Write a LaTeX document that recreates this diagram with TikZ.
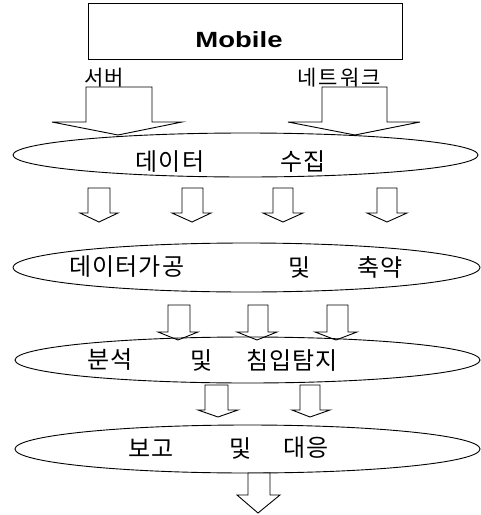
\documentclass[tikz,border=0pt]{standalone}
\usepackage{fontspec}
\setmainfont{Liberation Sans}
\newfontfamily\krsp[LetterSpace=4]{Noto Sans CJK KR}
\newfontfamily\krlab[LetterSpace=0]{Noto Sans CJK KR}
\newfontfamily\krlabw[LetterSpace=10]{Noto Sans CJK KR}
\newfontfamily\mob[FakeStretch=1.25]{Liberation Sans}
\usetikzlibrary{shapes.geometric}
\newcommand\blkarrow[8]{\draw[blk] (#1,#3) -- (#1,#4) -- (#5,#4) -- (#7,#8) -- (#6,#4) -- (#2,#4) -- (#2,#3) -- cycle;}
\tikzset{
  blk/.style={draw=black, line width=0.9pt, fill=white, line join=miter},
  oval/.style={draw=black, line width=0.9pt, ellipse, inner sep=0pt},
  word/.style={inner sep=0pt, font=\krsp\fontsize{24}{24}\selectfont},
  lab/.style={inner sep=0pt, font=\krlab\fontsize{21}{21}\selectfont},
}
\begin{document}
\begin{tikzpicture}[x=1pt,y=-1pt]
\useasboundingbox (0,0) rectangle (481,515);
% Mobile box
\node[draw=black, line width=0.9pt, minimum width=314pt, minimum height=56pt, inner sep=0pt] (mobilebox) at (245,31) {};
\node[inner sep=0pt, font=\mob\bfseries\fontsize{22}{22}\selectfont] (mobile) at (239,40) {Mobile};
\node[lab] (server) at (104,78) {서버};
\node[lab, font=\krlabw\fontsize{21}{21}\selectfont] (network) at (339,78) {네트워크};
% big arrows
\blkarrow{86}{152}{87}{122}{52}{182}{118}{135}
\blkarrow{322}{387}{87}{122}{288}{420}{355}{135}
% ellipse 1
\node[oval, minimum width=465pt, minimum height=44pt] (e1) at (245.5,155) {};
\node[word] (w11) at (170,162) {데이터};
\node[word] (w12) at (303,162) {수집};
% row 1 arrows
\blkarrow{88}{110}{188}{213}{80}{118}{99}{222}
\blkarrow{182}{203}{188}{213}{172}{211}{192}{222}
\blkarrow{273}{293}{188}{213}{263}{303}{283}{222}
\blkarrow{377}{397}{188}{213}{367}{407}{387}{222}
% ellipse 2
\node[oval, minimum width=467pt, minimum height=49pt] (e2) at (246.5,267.5) {};
\node[word] (w21) at (127,267) {데이터가공};
\node[word] (w22) at (300,267) {및};
\node[word] (w23) at (380,267) {축약};
% row 2 arrows
\blkarrow{168}{190}{305}{332}{158}{198}{178}{340}
\blkarrow{248}{268}{305}{332}{237}{277}{257}{340}
\blkarrow{327}{348}{305}{332}{315}{357}{336}{340}
% ellipse 3
\node[oval, minimum width=465pt, minimum height=46pt] (e3) at (247.5,360) {};
\node[word] (w31) at (110,360) {분석};
\node[word] (w32) at (202,360) {및};
\node[word] (w33) at (292,360) {침입탐지};
% row 3 arrows
\blkarrow{205}{228}{385}{410}{198}{238}{218}{417}
\blkarrow{300}{320}{385}{410}{292}{330}{310}{417}
% ellipse 4
\node[oval, minimum width=465pt, minimum height=48pt] (e4) at (247.5,449) {};
\node[word] (w41) at (151,448) {보고};
\node[word] (w42) at (241,448) {및};
\node[word] (w43) at (306,448) {대응};
% final arrow
\blkarrow{248}{270}{473}{495}{237}{280}{258}{513}
\end{tikzpicture}
\end{document}
